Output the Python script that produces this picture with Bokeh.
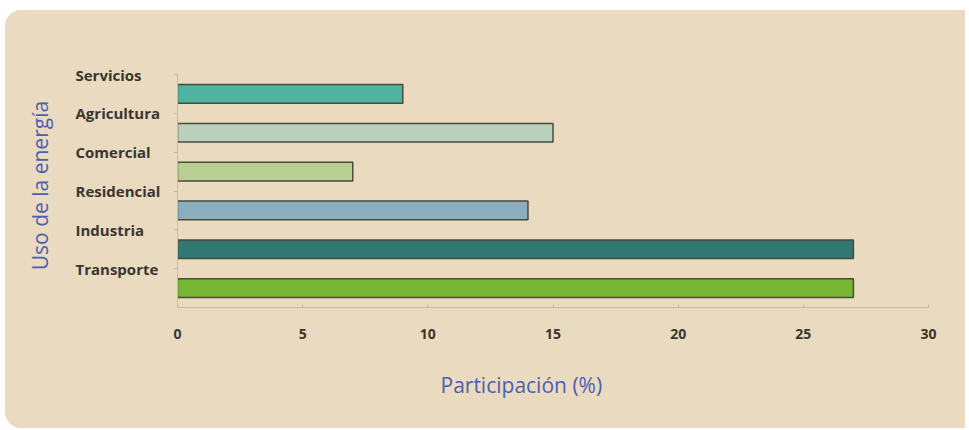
from bokeh.plotting import figure
from bokeh.models import Range1d, FixedTicker, ColumnDataSource, Title
from bokeh.layouts import row
from bokeh.core.properties import value
from bokeh.embed import file_html
from bokeh.resources import INLINE
import math

categories = ["Transporte", "Industria", "Residencial", "Comercial", "Agricultura", "Servicios"]
values = [27, 27, 14, 7, 15, 9]
colors = ["#79B633", "#317872", "#8AAEBE", "#B7CF90", "#B9D1BD", "#4FB39F"]
x_ticks = [0, 5, 10, 15, 20, 25, 30]

BG = "#EADBC0"
TXT = "#3A3530"
BLUE = "#4B5FB2"
n = len(categories)
bar_pos = [i + 0.5 for i in range(n)]
label_pos = [i + 1 for i in range(n)]

H = 418
TOP = 64
BOTTOM = 121
yr = Range1d(0, n)
ppu = (H - TOP - BOTTOM) / n
yr_left = Range1d(-BOTTOM / ppu, n + TOP / ppu)

src = ColumnDataSource(dict(y=bar_pos, right=values, color=colors))
lab_src = ColumnDataSource(dict(y=label_pos, text=categories, x=[70] * n))

# left panel: category labels and y title
pl = figure(width=160, height=H, output_backend="svg", toolbar_location=None,
            x_range=Range1d(0, 160), y_range=yr_left,
            min_border_left=0, min_border_right=0, min_border_top=0, min_border_bottom=0)
pl.frame_align = False
pl.axis.visible = False
pl.grid.visible = False
pl.outline_line_color = None
pl.border_fill_color = None
pl.background_fill_color = None
pl.text(x="x", y="y", text="text", source=lab_src, text_align="left", text_baseline="middle",
        text_font=value("Open Sans"), text_font_size=value("15px"), text_font_style="bold",
        text_color=TXT)
pl.text(x=[34], y=[3.14], text=["Uso de la energía"], angle=math.pi / 2,
        text_align="center", text_baseline="middle", text_font=value("Open Sans"),
        text_font_size=value("21px"), text_color=BLUE)

# main panel
p = figure(width=800, height=H, output_backend="svg", toolbar_location=None,
           x_range=Range1d(0, 30), y_range=yr,
           min_border_left=12, min_border_right=37, min_border_top=TOP, min_border_bottom=BOTTOM)
p.frame_align = False
p.border_fill_color = None
p.background_fill_color = None
p.outline_line_color = None
p.xgrid.visible = False
p.ygrid.visible = False

p.hbar(y="y", right="right", left=0, height=0.48, fill_color="color",
       line_color="#4A4A3A", line_width=1.5, source=src)

ax_col = "#C8BBA3"
p.xaxis.ticker = FixedTicker(ticks=x_ticks)
p.xaxis.axis_line_color = ax_col
p.xaxis.major_tick_line_color = ax_col
p.xaxis.major_tick_in = 3
p.xaxis.major_tick_out = 0
p.xaxis.minor_tick_line_color = None
p.xaxis.major_label_standoff = 21
p.xaxis.major_label_text_font = "Open Sans"
p.xaxis.major_label_text_font_size = "14px"
p.xaxis.major_label_text_font_style = "bold"
p.xaxis.major_label_text_color = TXT

p.yaxis.ticker = FixedTicker(ticks=label_pos)
p.yaxis.major_label_overrides = {lp: " " for lp in label_pos}
p.yaxis.major_label_standoff = 0
p.yaxis.axis_line_color = ax_col
p.yaxis.major_tick_line_color = ax_col
p.yaxis.major_tick_in = 0
p.yaxis.major_tick_out = 4
p.yaxis.minor_tick_line_color = None

xtitle = Title(text="Participación (%)", align="left", offset=263, standoff=54,
               text_font="Open Sans", text_font_size="21px", text_font_style="normal",
               text_color=BLUE)
p.add_layout(xtitle, "below")

layout = row(pl, p)
layout.styles = {"border-radius": "16px 0 0 16px", "overflow": "hidden",
                 "margin-top": "10px", "margin-left": "5px", "background-color": BG}

open("out.html", "w").write(file_html(layout, INLINE))
